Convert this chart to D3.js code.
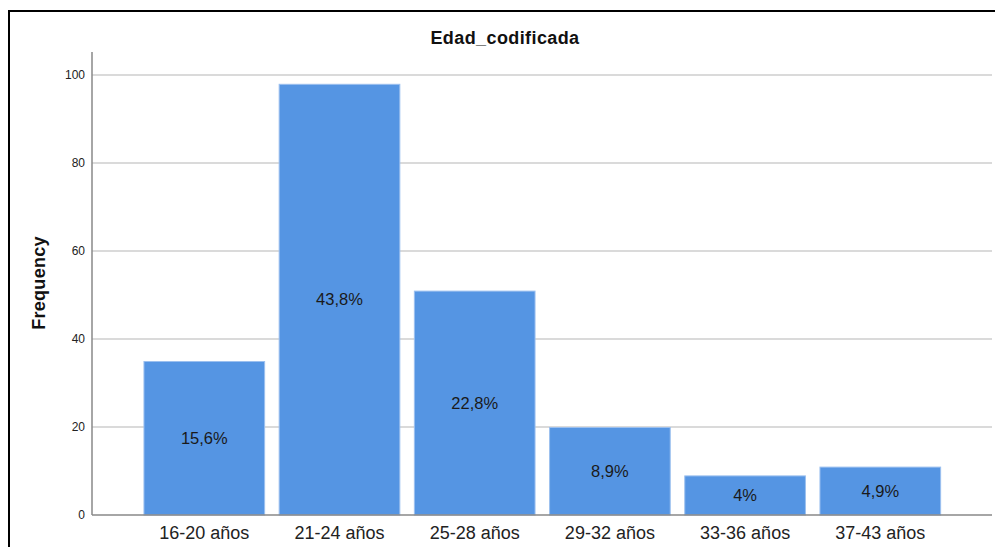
<!DOCTYPE html>
<html>
<head>
<meta charset="utf-8">
<script src="https://cdn.jsdelivr.net/npm/d3@7"></script>
<style>
html,body{margin:0;padding:0;background:#fff;}
svg{display:block;font-family:Arial,"Liberation Sans",sans-serif;}
</style>
</head>
<body>
<svg id="chart" width="995" height="547"></svg>
<script>
const categories = ["16-20 años","21-24 años","25-28 años","29-32 años","33-36 años","37-43 años"];
const frequencies = [35, 98, 51, 20, 9, 11];
const percentLabels = ["15,6%","43,8%","22,8%","8,9%","4%","4,9%"];
const yTicks = [0, 20, 40, 60, 80, 100];
const title = "Edad_codificada";
const yTitle = "Frequency";

const svg = d3.select("#chart");
const plot = {left: 92, right: 992, top: 52, bottom: 515};

// frame
svg.append("rect").attr("x", 9).attr("y", 11).attr("width", 1000).attr("height", 600)
  .attr("fill", "none").attr("stroke", "#000").attr("stroke-width", 2);

const y = d3.scaleLinear().domain([0, 100]).range([515, 75]);
const x = d3.scaleBand().domain(categories).range([136.7, 947.9])
  .paddingInner(0.1).paddingOuter(0.05);

// gridlines
svg.append("g").selectAll("line").data(yTicks.filter(t => t > 0)).join("line")
  .attr("x1", plot.left).attr("x2", plot.right)
  .attr("y1", d => y(d)).attr("y2", d => y(d))
  .attr("stroke", "#dadada").attr("stroke-width", 2);

// bars
svg.append("g").selectAll("rect").data(frequencies).join("rect")
  .attr("x", (d, i) => x(categories[i]) + 0.5)
  .attr("y", d => y(d) + 0.5)
  .attr("width", x.bandwidth() - 1)
  .attr("height", d => y(0) - y(d) - 0.5)
  .attr("fill", "#5595e3")
  .attr("stroke", "#9cc0ef").attr("stroke-width", 1);

// value labels
svg.append("g").selectAll("text").data(frequencies).join("text")
  .attr("x", (d, i) => x(categories[i]) + x.bandwidth() / 2)
  .attr("y", d => (y(d) + y(0)) / 2)
  .attr("dy", "0.36em")
  .attr("text-anchor", "middle")
  .attr("font-size", 16.5).attr("fill", "#1a1a1a")
  .text((d, i) => percentLabels[i]);

// y axis
const yAxis = d3.axisLeft(y).tickValues(yTicks).tickSize(0).tickPadding(7);
const gy = svg.append("g").attr("transform", `translate(${plot.left},0)`).call(yAxis);
gy.select(".domain").remove();
gy.selectAll("text").attr("font-size", 12).attr("fill", "#222").attr("font-family", "Arial, 'Liberation Sans', sans-serif");
svg.append("line").attr("x1", plot.left).attr("x2", plot.left)
  .attr("y1", plot.top).attr("y2", plot.bottom)
  .attr("stroke", "#888").attr("stroke-width", 1.5);

// x axis
const xAxis = d3.axisBottom(x).tickSize(0).tickPadding(11);
const gx = svg.append("g").attr("transform", `translate(0,${plot.bottom})`).call(xAxis);
gx.select(".domain").remove();
gx.selectAll("text").attr("font-size", 18).attr("fill", "#222").attr("font-family", "Arial, 'Liberation Sans', sans-serif");
svg.append("line").attr("x1", plot.left).attr("x2", plot.right)
  .attr("y1", plot.bottom).attr("y2", plot.bottom)
  .attr("stroke", "#888").attr("stroke-width", 1.5);

// title
svg.append("text").attr("x", 505).attr("y", 44).attr("text-anchor", "middle")
  .attr("font-size", 18).attr("font-weight", "bold").attr("fill", "#111")
  .attr("letter-spacing", 0.4)
  .text(title);

// y title
svg.append("text").attr("transform", "translate(45,283) rotate(-90)")
  .attr("text-anchor", "middle")
  .attr("font-size", 18).attr("font-weight", "bold").attr("fill", "#111")
  .attr("letter-spacing", 0.3)
  .text(yTitle);
</script>
</body>
</html>
